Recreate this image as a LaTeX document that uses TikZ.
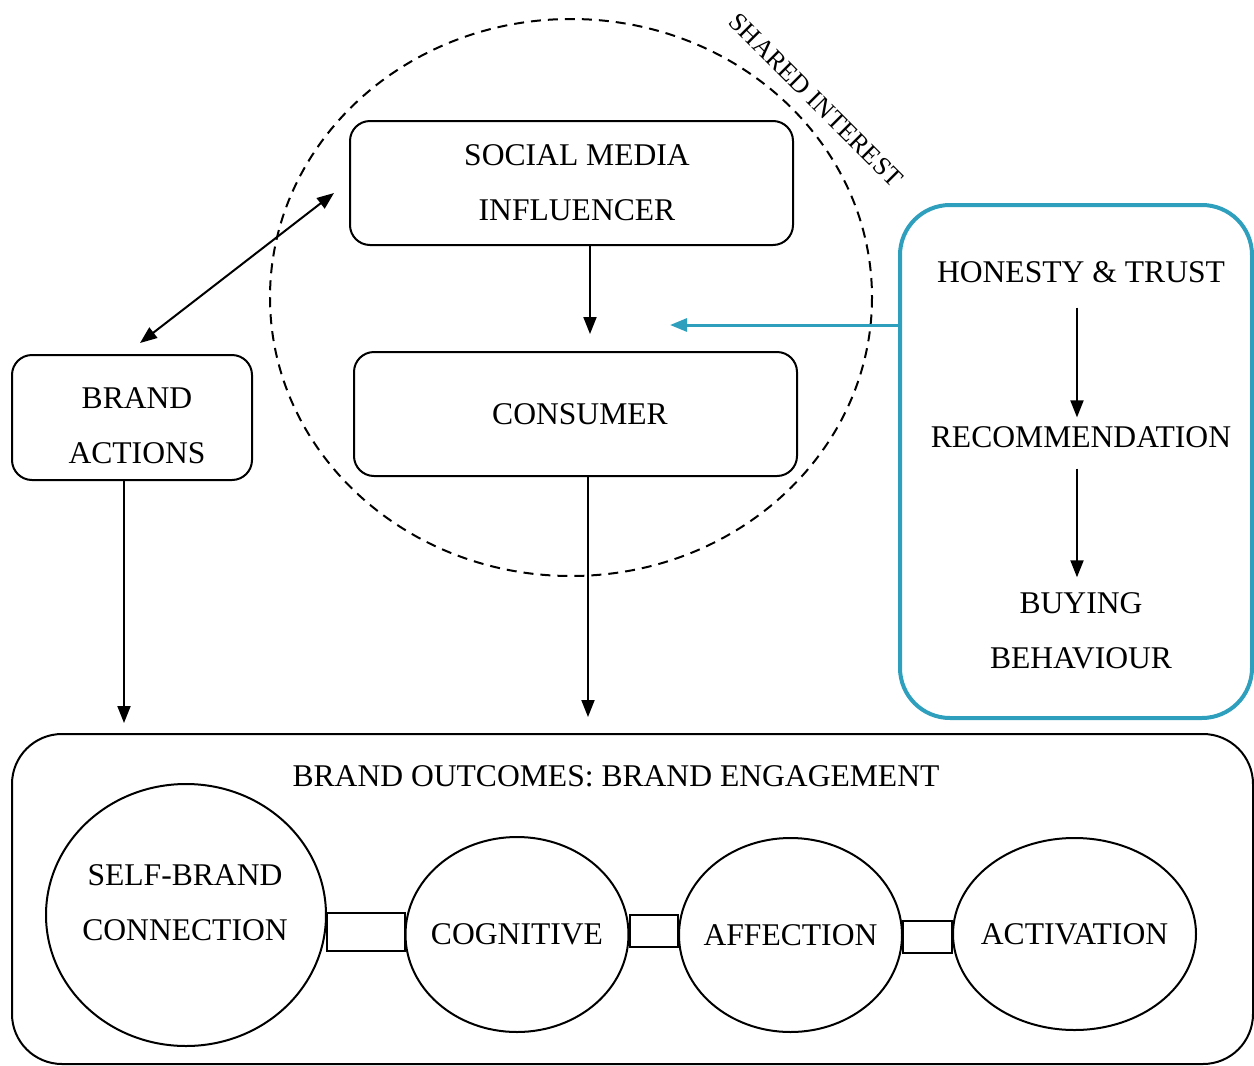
\documentclass[tikz,border=0pt]{standalone}
\usepackage{fontspec}
\setmainfont{Liberation Serif}
\usetikzlibrary{shapes.geometric,arrows.meta}
\definecolor{tealline}{RGB}{46,160,190}

\begin{document}
\begin{tikzpicture}[x=0.5pt,y=-0.5pt, font=\fontsize{15.8}{27.5}\selectfont, line width=1pt,
    >={Triangle[length=8.5pt,width=6.5pt]},
    rbox/.style={draw, rounded corners=10pt, align=center, inner sep=0pt},
    bubble/.style={draw, ellipse, inner sep=0pt},
    txt/.style={inner sep=0pt, align=center}]
    \useasboundingbox (0,0) rectangle (1254,1066);

    % shared interest ring
    \draw[dash pattern=on 5pt off 3.5pt] (571,297.5) ellipse [x radius=301, y radius=278.5];
    \node[txt, rotate=-45, font=\fontsize{13}{15}\selectfont] (shared) at (816,100) {SHARED INTEREST};

    \node[rbox, minimum width=221.5pt, minimum height=62pt] (smi) at (571.5,183) {};
    \node[txt] (smitxt) at (577,182.5) {SOCIAL MEDIA\\INFLUENCER};
    \node[rbox, minimum width=221.5pt, minimum height=62pt] (consumer) at (575.5,414) {};
    \node[txt] (consumertxt) at (580,414) {CONSUMER};
    \node[rbox, minimum width=120pt, minimum height=62.5pt] (brand) at (132,417.5) {};
    \node[txt] (brandtxt) at (137,426) {BRAND\\ACTIONS};

    % honesty & trust chain
    \node[rbox, draw=tealline, line width=2pt, rounded corners=25pt, minimum width=176pt, minimum height=256.5pt] (honbox) at (1076,461.5) {};
    \node[txt] (honesty) at (1081,272) {HONESTY \& TRUST};
    \node[txt] (recommend) at (1081,437) {RECOMMENDATION};
    \node[txt] (buying) at (1081,630.5) {BUYING\\BEHAVIOUR};
    \coordinate (infl) at (670,325);

    % brand engagement
    \node[rbox, rounded corners=25pt, minimum width=620.5pt, minimum height=165pt] (outcome) at (632.5,899) {};
    \node[txt] (title) at (616,776) {BRAND OUTCOMES: BRAND ENGAGEMENT};
    \node[bubble, minimum width=140pt, minimum height=131pt] (selfbrand) at (186,915) {};
    \node[txt] (selfbrandtxt) at (185,902.5) {SELF-BRAND\\CONNECTION};
    \node[bubble, minimum width=111.5pt, minimum height=97.5pt, label=center:COGNITIVE] (cognitive) at (517,934.5) {};
    \node[bubble, minimum width=111.5pt, minimum height=97pt, label=center:AFFECTION] (affection) at (790.5,935) {};
    \node[bubble, minimum width=121.5pt, minimum height=96pt, label=center:ACTIVATION] (activation) at (1074.5,934) {};

    \draw (selfbrand.east |- 0,913) rectangle (cognitive.west |- 0,951);
    \draw (cognitive.east |- 0,915) rectangle (affection.west |- 0,947);
    \draw (affection.east |- 0,921) rectangle (activation.west |- 0,953);

    \draw[<->] ([xshift=4pt,yshift=5.5pt]brand.north) -- ([xshift=-7.5pt,yshift=-5pt]smi.west);
    \draw[->] ([xshift=9.25pt]smi.south) -- ([xshift=9.25pt]smi.south |- consumer.north) [shorten >=8.5pt];
    \draw[->] ([xshift=6.25pt]consumer.south) -- ([xshift=6.25pt]consumer.south |- outcome.north) [shorten >=8pt];
    \draw[->] ([xshift=-4pt]brand.south) -- ([xshift=-4pt]brand.south |- outcome.north) [shorten >=5pt];
    \draw[->, tealline, line width=1.5pt] ([yshift=68.25pt]honbox.west) -- (infl);
    \draw[->, shorten <=12pt, shorten >=4pt] ([xshift=-2pt]honesty.south) -- ([xshift=-2pt]recommend.north);
    \draw[->, shorten <=10pt, shorten >=7pt] ([xshift=-2pt]recommend.south) -- ([xshift=-2pt]recommend.south |- buying.north);
\end{tikzpicture}
\end{document}
